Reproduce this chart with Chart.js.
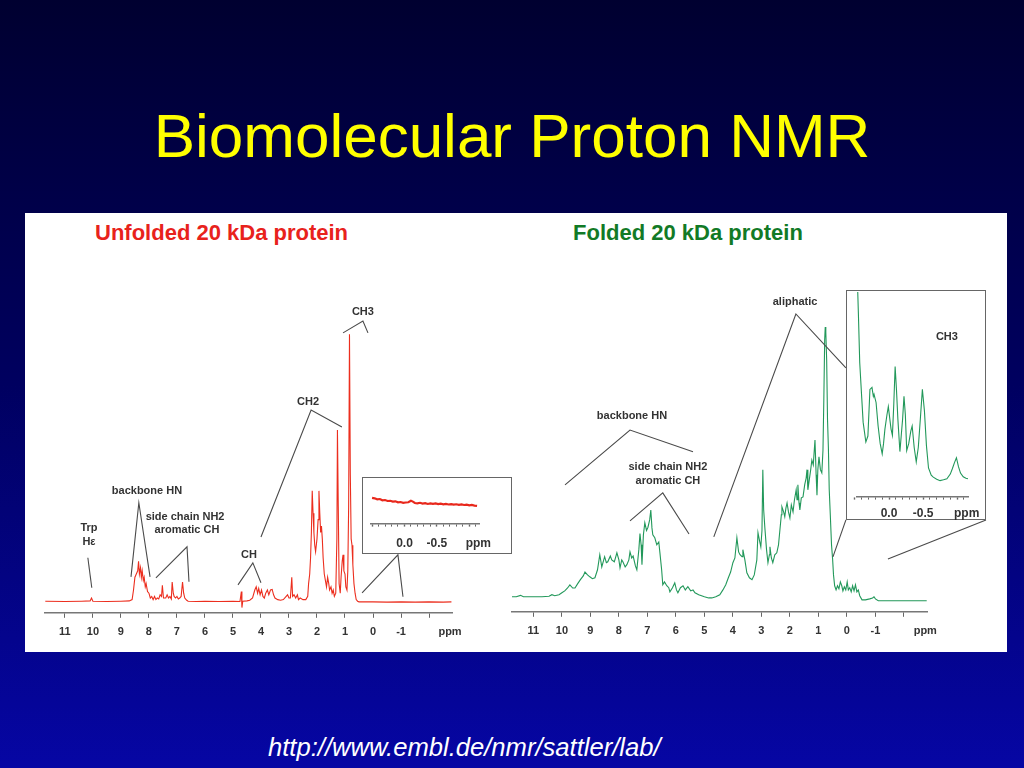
<!DOCTYPE html>
<html>
<head>
<meta charset="utf-8">
<script src="https://cdn.jsdelivr.net/npm/chart.js@4.4.1/dist/chart.umd.min.js"></script>
<style>
  html, body { margin: 0; padding: 0; }
  body {
    width: 1024px; height: 768px; position: relative; overflow: hidden;
    background: linear-gradient(to bottom, #000030 0%, #000060 50%, #0606a4 100%);
    font-family: "Liberation Sans", Arial, sans-serif;
  }
  .abs { position: absolute; }
  #panel { left: 25px; top: 213px; width: 982px; height: 439px; background: #fff; }
  #title { left: 0; top: 105px; width: 1024px; text-align: center; color: #ffff00; font-size: 62px; line-height: 62px; }
  .sub { font-size: 22px; line-height: 22px; font-weight: bold; top: 222px; white-space: nowrap; }
  #url { left: 268px; top: 735px; color: #fff; font-style: italic; font-size: 25.6px; line-height: 25px; white-space: nowrap; }
  .box { border: 1.3px solid #666; box-sizing: border-box; }
</style>
</head>
<body>
<div id="panel" class="abs"></div>
<div id="title" class="abs">Biomolecular Proton NMR</div>
<div class="abs sub" style="left:95px;color:#e8221c">Unfolded 20 kDa protein</div>
<div class="abs sub" style="left:573px;color:#127a26">Folded 20 kDa protein</div>

<canvas id="unfolded" class="abs" width="480" height="439" style="left:25px;top:213px"></canvas>
<canvas id="folded" class="abs" width="502" height="439" style="left:505px;top:213px"></canvas>
<div class="abs box" style="left:362px;top:477px;width:150px;height:77px;background:#fff"></div>
<div class="abs box" style="left:846px;top:290px;width:140px;height:230px;background:#fff"></div>
<canvas id="unfoldedZoom" class="abs" width="150" height="90" style="left:362px;top:477px"></canvas>
<canvas id="foldedZoom" class="abs" width="150" height="240" style="left:846px;top:288px"></canvas>

<div id="url" class="abs">http://www.embl.de/nmr/sattler/lab/</div>

<script>
// spectra: [ppm, intensity]
const unfolded = [
  [11.7,0.5],[11.0,0.4],[10.4,0.5],[10.1,0.6],[10.05,1.5],[10.0,0.5],[9.5,0.4],[9.0,0.5],[8.7,0.6],[8.6,1],
  [8.55,4],[8.5,8],[8.45,9],[8.4,10],[8.37,13],[8.34,9],[8.3,11],[8.27,8],[8.24,10],[8.2,7],[8.17,8],[8.13,5],
  [8.1,6],[8.05,3.5],[8.0,3],[7.95,1.5],[7.9,2],[7.85,1],[7.8,2],[7.75,1],[7.7,1.5],[7.65,1.2],[7.6,2.5],
  [7.55,2],[7.52,5.5],[7.48,1.5],[7.4,1.5],[7.35,2.5],[7.3,1.5],[7.25,2],[7.2,1.2],[7.17,6.5],[7.13,3],
  [7.1,2],[7.05,1.5],[7.0,2],[6.95,1.2],[6.9,1.5],[6.85,2],[6.8,6.5],[6.76,3],[6.72,1.5],[6.65,0.8],
  [6.6,0.5],[6.3,0.4],[6.0,0.5],[5.5,0.4],[5.0,0.5],[4.75,0.4],[4.7,3.5],[4.68,-1.5],[4.65,0.5],[4.5,0.6],
  [4.4,0.8],[4.3,1.5],[4.22,4],[4.17,5],[4.12,3],[4.08,4.5],[4.03,2.5],[3.98,4],[3.93,2],[3.88,1.5],
  [3.83,3],[3.77,4],[3.72,2.5],[3.66,4],[3.6,4.2],[3.55,2.5],[3.5,1.5],[3.4,1],[3.3,0.8],[3.2,1],[3.1,2],
  [3.05,2.5],[3.0,1.5],[2.95,1.5],[2.9,8],[2.87,2],[2.82,2.5],[2.76,1.5],[2.7,2.5],[2.66,1],[2.6,1.5],
  [2.5,1],[2.4,1],[2.33,2],[2.3,6],[2.26,9],[2.23,14],[2.2,22],[2.17,35],[2.14,28],[2.11,22],[2.08,18],
  [2.05,16],[2.0,20],[1.96,26],[1.93,35],[1.9,28],[1.87,22],[1.84,24],[1.81,20],[1.78,14],[1.74,9],
  [1.7,7],[1.66,5],[1.62,8],[1.58,6],[1.55,4],[1.5,5],[1.46,3],[1.42,4],[1.38,2],[1.33,3],[1.29,20],
  [1.27,54],[1.24,30],[1.21,6],[1.17,3],[1.14,8],[1.1,13],[1.07,15],[1.04,10],[1.0,9],[0.97,5],[0.93,4],
  [0.9,10],[0.87,30],[0.84,84],[0.81,40],[0.78,20],[0.75,18],[0.72,12],[0.68,6],[0.64,3],[0.6,1],
  [0.55,0.5],[0.5,0.3],[0.0,0.3],[-0.5,0.2],[-1.0,0.3],[-1.5,0.2],[-2.0,0.3],[-2.5,0.2],[-2.8,0.3]
];

const folded = [
  [11.75,1.25],[11.6,1.25],[11.45,1.7],[11.35,1.25],[11.0,1.25],[10.7,1.25],[10.45,1.4],[10.35,1.9],
  [10.25,1.6],[10.1,1.9],[10.0,2.5],[9.9,3.1],[9.8,4],[9.72,5],[9.62,4],[9.54,4],[9.45,5.3],[9.35,6.6],
  [9.25,7.8],[9.19,9],[9.1,8.1],[9.02,7.5],[8.93,6.9],[8.84,7.2],[8.75,9.7],[8.67,14.4],[8.6,10.6],
  [8.5,13.8],[8.44,11.9],[8.39,12.2],[8.3,14],[8.25,12.8],[8.16,12.2],[8.07,15],[8.0,12.8],[7.96,10.3],
  [7.9,12.8],[7.86,12.2],[7.78,10.6],[7.72,11.3],[7.65,12.8],[7.61,15.3],[7.55,13.4],[7.5,14],
  [7.42,10.9],[7.37,9.7],[7.3,16],[7.26,21],[7.22,17.5],[7.19,11.3],[7.14,20.6],[7.09,24.4],[7.03,22],
  [6.98,23],[6.92,25.3],[6.88,28.4],[6.84,22.8],[6.81,20.6],[6.74,19.7],[6.67,17.5],[6.6,18.4],
  [6.56,15],[6.5,9.7],[6.46,5],[6.4,5.9],[6.32,4.7],[6.25,4.1],[6.21,2.8],[6.12,4.1],[6.04,5.6],
  [5.98,3.4],[5.93,2.5],[5.84,4.1],[5.75,4.7],[5.67,3.4],[5.58,4.4],[5.48,3.1],[5.4,3.4],[5.33,2.5],
  [5.2,1.9],[5.0,1.25],[4.85,0.9],[4.74,0.9],[4.6,1.25],[4.46,1.9],[4.35,3.4],[4.25,5],[4.16,7.2],
  [4.08,9],[4.0,11.9],[3.93,13.4],[3.86,19.7],[3.8,15.3],[3.75,14.4],[3.68,13.8],[3.65,16],[3.58,12.8],
  [3.51,8.75],[3.42,7.2],[3.33,6.6],[3.25,8.1],[3.16,12.8],[3.12,21.3],[3.07,19],[3.02,16.9],[2.98,22],
  [2.95,41],[2.92,28.4],[2.88,23],[2.82,16],[2.77,11.9],[2.72,14.4],[2.7,16.9],[2.65,13.4],[2.6,11.9],
  [2.53,14.4],[2.46,15],[2.4,17.5],[2.35,22.2],[2.3,26.9],[2.28,29.4],[2.22,27.8],[2.18,26.3],[2.14,29],
  [2.1,30.6],[2.05,27.8],[2.0,25.9],[1.95,30],[1.89,27.8],[1.84,31.6],[1.78,34.7],[1.75,31.6],[1.72,36.3],
  [1.68,30.6],[1.65,28.4],[1.6,32.2],[1.54,32.5],[1.48,36.3],[1.43,38.4],[1.4,41],[1.37,34.7],[1.32,37.8],
  [1.27,41],[1.23,44],[1.18,42.5],[1.12,50.3],[1.08,39.4],[1.05,33],[1.02,41],[0.98,45],[0.93,41],
  [0.88,40],[0.84,47],[0.81,62.8],[0.78,81.6],[0.76,85.6],[0.74,84],[0.71,75.3],[0.68,56.6],[0.65,48],
  [0.62,34.7],[0.58,26.3],[0.54,17.5],[0.5,12.8],[0.47,8.1],[0.43,4.7],[0.38,3.4],[0.33,4.7],[0.28,3.75],
  [0.23,5.9],[0.18,4.7],[0.14,3.1],[0.09,4.4],[0.04,3.4],[-0.01,5.9],[-0.05,3.4],[-0.1,4.1],[-0.15,2.8],
  [-0.2,4.7],[-0.25,3.1],[-0.3,5],[-0.35,2.8],[-0.4,3.4],[-0.45,1.6],[-0.53,0.3],[-0.65,0.3],[-0.8,0.6],
  [-0.9,0.9],[-0.95,1.25],[-1.0,0.6],[-1.1,0],[-1.3,0],[-1.6,0],[-2.0,0],[-2.4,0],[-2.8,0]
];

// insets (upfield region, own intensity scale)
const unfoldedInset = [
  [0.50,26],[0.46,25.5],[0.42,24.5],[0.38,24.8],[0.34,23.5],[0.30,23.8],[0.26,22.8],[0.22,23],[0.18,22.2],
  [0.14,22.5],[0.10,21.5],[0.06,21.8],[0.02,21],[-0.02,21.3],[-0.06,21.5],[-0.10,23],[-0.13,22.2],
  [-0.16,20.8],[-0.20,20.5],[-0.24,21],[-0.28,20.2],[-0.32,20.6],[-0.36,19.8],[-0.40,20.4],[-0.44,19.9],
  [-0.48,20.3],[-0.52,19.6],[-0.56,20.1],[-0.60,19.5],[-0.64,19.9],[-0.68,19.3],[-0.72,19.7],[-0.76,19.1],
  [-0.80,19.5],[-0.84,18.9],[-0.88,19.3],[-0.92,18.8],[-0.96,19.1],[-1.00,18.5],[-1.04,18.9],[-1.08,18.2],
  [-1.12,17.8]
];

const foldedInset = [
  [0.47,112],[0.45,90],[0.43,65.5],[0.4,48],[0.38,36.4],[0.34,26.7],[0.31,29.6],[0.28,52.4],[0.25,53.4],
  [0.23,49],[0.22,50],[0.19,46],[0.16,34.5],[0.13,26],[0.10,20.9],[0.08,26],[0.06,33],[0.03,40],[0.01,44],
  [-0.03,33],[-0.05,30],[-0.07,45],[-0.09,63.6],[-0.11,52],[-0.13,38],[-0.16,22],[-0.18,30],[-0.20,38],
  [-0.22,49],[-0.24,40],[-0.26,22.5],[-0.29,26],[-0.32,32],[-0.34,34.5],[-0.37,24],[-0.40,17],[-0.43,24],
  [-0.46,37.9],[-0.49,52.4],[-0.52,42],[-0.55,24.8],[-0.58,14],[-0.62,10.5],[-0.65,9.5],[-0.70,8.5],
  [-0.75,7.8],[-0.80,8.2],[-0.85,8.7],[-0.90,11],[-0.93,13.6],[-0.96,16.5],[-0.99,19],[-1.02,14.6],
  [-1.05,11.5],[-1.09,9.7],[-1.13,9],[-1.16,8.7]
];

// tick labels
const mainTicks = [11, 10, 9, 8, 7, 6, 5, 4, 3, 2, 1, 0, -1, -2];
const mainUnitTick = -2.75;
const insetTicks = [0.5, 0.4, 0.3, 0.2, 0.1, 0, -0.1, -0.2, -0.3, -0.4, -0.5, -0.6, -0.7, -0.8, -0.9, -1.0, -1.1];
const insetLabelled = [0, -0.5];
const insetUnitTick = -1.14;

// annotations in data units: brackets [[ppm, int], ...], labels [text, ppm, int]
const unfoldedBrackets = [
  [[10.18,14.1],[10.04,4.7]],
  [[8.64,8.1],[8.36,31.3],[7.96,8.1]],
  [[7.75,7.8],[6.64,17.5],[6.57,6.6]],
  [[4.82,5.6],[4.29,12.5],[4.0,6.25]],
  [[4.0,20.6],[2.21,60.3],[1.11,55]],
  [[1.07,84.4],[0.36,88.1],[0.18,84.4]],
  [[0.39,3.1],[-0.89,15],[-1.07,1.9]]
];
const unfoldedLabels = [
  ['Trp',10.14,23.4],['H\u03b5',10.14,19.1],['backbone HN',8.07,35],['side chain NH2',6.71,26.9],
  ['aromatic CH',6.64,22.8],['CH',4.43,15],['CH2',2.32,62.8],['CH3',0.36,91]
];
const foldedBrackets = [
  [[9.89,36.25],[7.61,53.4],[5.4,46.6]],
  [[7.61,25],[6.46,33.75],[5.54,20.9]],
  [[4.67,20],[1.79,89.7],[0.035,72.8]],
  [[0.49,13.75],[0.035,25.3]],
  [[-1.44,13.1],[-4.88,25.3]]
];
const foldedLabels = [
  ['backbone HN',7.54,57.8],['side chain NH2',6.28,41.9],['aromatic CH',6.28,37.5],['aliphatic',1.82,93.4]
];
const foldedInsetLabels = [['CH3',-0.85,78]];

Chart.defaults.font.family = '"Liberation Sans", Arial, sans-serif';
Chart.defaults.animation = false;

function notes(brackets, labels) {
  return {
    id: 'notes',
    afterDraw(chart) {
      const { ctx, scales: { x, y } } = chart;
      ctx.save();
      ctx.strokeStyle = '#4a4a4a';
      ctx.lineWidth = 1.1;
      brackets.forEach(pts => {
        ctx.beginPath();
        pts.forEach(([p, v], i) => {
          const px = x.getPixelForValue(p), py = y.getPixelForValue(v);
          if (i) ctx.lineTo(px, py); else ctx.moveTo(px, py);
        });
        ctx.stroke();
      });
      ctx.fillStyle = '#333';
      ctx.font = 'bold 11px "Liberation Sans", Arial, sans-serif';
      ctx.textAlign = 'center';
      ctx.textBaseline = 'middle';
      labels.forEach(([t, p, v]) => ctx.fillText(t, x.getPixelForValue(p), y.getPixelForValue(v)));
      ctx.restore();
    }
  };
}

function spectrum(id, points, color, width, xr, yr, pad, axis, extra) {
  const ticks = axis.ticks;
  return new Chart(document.getElementById(id), {
    type: 'line',
    data: {
      datasets: [{
        data: points.map(([p, v]) => ({ x: p, y: v })),
        borderColor: color,
        borderWidth: width,
        pointRadius: 0,
        tension: 0
      }]
    },
    options: {
      responsive: false,
      layout: { padding: pad },
      plugins: { legend: { display: false }, tooltip: { enabled: false } },
      scales: {
        x: {
          type: 'linear',
          reverse: true,
          min: xr[1], max: xr[0],
          afterBuildTicks: s => { s.ticks = ticks.concat([axis.unit]).map(v => ({ value: v })); },
          border: { display: true, color: '#777', width: 1.4 },
          grid: {
            drawOnChartArea: false,
            tickLength: axis.tickLength,
            tickColor: c => (c.tick && c.tick.value === axis.unit) ? 'rgba(0,0,0,0)' : '#666',
            tickWidth: c => (c.tick && axis.major(c.tick.value)) ? 1.4 : 1
          },
          ticks: {
            autoSkip: false,
            maxRotation: 0,
            padding: axis.padding,
            color: '#333',
            font: { size: axis.fontSize, weight: 'bold' },
            callback: v => v === axis.unit ? 'ppm' : axis.label(v)
          }
        },
        y: { display: false, min: yr[0], max: yr[1] }
      }
    },
    plugins: extra ? [extra] : []
  });
}

const mainAxis = {
  ticks: mainTicks, unit: mainUnitTick, tickLength: 5, padding: 8, fontSize: 11,
  major: () => false,
  label: v => v === -2 ? '' : String(v)
};
const insetAxis = {
  ticks: insetTicks, unit: insetUnitTick, tickLength: 3, padding: 10, fontSize: 12,
  major: v => Math.abs(v * 2 - Math.round(v * 2)) < 1e-6,
  label: v => {
    const hit = insetLabelled.find(t => Math.abs(t - v) < 1e-6);
    return hit === undefined ? '' : hit.toFixed(1);
  }
};

spectrum('unfolded', unfolded, '#ec2e1e', 1.1, [11.71, -2.82], [-3.125, 96.875],
  { left: 20, right: 53, top: 80, bottom: 5 }, mainAxis, notes(unfoldedBrackets, unfoldedLabels));

spectrum('folded', folded, '#22985a', 1.1, [11.75, -2.81], [-3.44, 96.56],
  { left: 7, right: 80, top: 79, bottom: 6 }, mainAxis, notes(foldedBrackets, foldedLabels));

spectrum('unfoldedZoom', unfoldedInset, '#e8281c', 2.2, [0.515, -1.15], [0, 44],
  { left: 7, right: 33, top: 3, bottom: 6 }, insetAxis, null);

spectrum('foldedZoom', foldedInset, '#22985a', 1.1, [0.47, -1.16], [0, 100],
  { left: 11, right: 28, top: 4, bottom: 0 }, Object.assign({}, insetAxis, { padding: 7 }),
  notes([], foldedInsetLabels));
</script>
</body>
</html>
